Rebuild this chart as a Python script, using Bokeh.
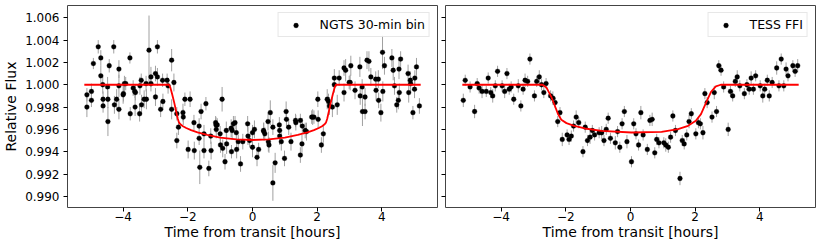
from bokeh.plotting import figure
from bokeh.layouts import row
from bokeh.models import (FixedTicker, Range1d, Legend, LegendItem, ColumnDataSource,
                          CustomLabelingPolicy, CDSView, IndexFilter)
from bokeh.embed import file_html
from bokeh.resources import INLINE

# ---------------- data ----------------
x_ticks = [-4, -2, 0, 2, 4]
x_tick_labels = ["\u22124", "\u22122", "0", "2", "4"]
y_ticks = [0.990, 0.992, 0.994, 0.996, 0.998, 1.000, 1.002, 1.004, 1.006]
y_tick_labels = ["0.990", "0.992", "0.994", "0.996", "0.998", "1.000", "1.002", "1.004", "1.006"]

ngts_time = [
    -5.12, -5.12, -4.98, -4.98, -4.92, -4.77, -4.69, -4.69, -4.63, -4.62,
    -4.62, -4.48, -4.47, -4.47, -4.43, -4.29, -4.27, -4.20, -4.13, -4.13,
    -4.13, -4.00, -3.99, -3.96, -3.92, -3.79, -3.78, -3.69, -3.64, -3.63,
    -3.62, -3.49, -3.48, -3.44, -3.43, -3.35, -3.29, -3.28, -3.20, -3.14,
    -3.14, -3.00, -3.00, -2.94, -2.94, -2.84, -2.78, -2.77, -2.64, -2.61,
    -2.50, -2.50, -2.43, -2.34, -2.34, -2.29, -2.15, -2.14, -2.09, -1.99,
    -1.93, -1.81, -1.80, -1.65, -1.65, -1.63, -1.59, -1.50, -1.50, -1.44,
    -1.35, -1.29, -1.28, -1.14, -1.13, -1.12, -1.09, -1.00, -0.99, -0.94,
    -0.92, -0.85, -0.81, -0.80, -0.66, -0.65, -0.63, -0.59, -0.54, -0.50,
    -0.49, -0.44, -0.37, -0.30, -0.15, -0.14, -0.09, 0.00, 0.00, 0.06,
    0.14, 0.19, 0.34, 0.35, 0.38, 0.48, 0.49, 0.51, 0.55, 0.63,
    0.63, 0.70, 0.83, 0.84, 0.84, 0.89, 0.99, 1.04, 1.05, 1.12,
    1.19, 1.33, 1.34, 1.48, 1.48, 1.53, 1.54, 1.63, 1.67, 1.83,
    1.86, 1.90, 2.02, 2.03, 2.13, 2.19, 2.31, 2.35, 2.38, 2.47,
    2.53, 2.53, 2.62, 2.68, 2.83, 2.83, 2.88, 2.99, 3.02, 3.04,
    3.17, 3.32, 3.33, 3.39, 3.40, 3.48, 3.48, 3.54, 3.60, 3.66,
    3.81, 3.82, 3.89, 3.90, 3.97, 4.02, 4.03, 4.08, 4.31, 4.35,
    4.39, 4.46, 4.51, 4.53, 4.54, 4.58, 4.81, 4.83, 4.88, 4.89,
    4.96, 5.01, 5.02, 5.07, 5.16,
]
ngts_flux = [
    0.9991, 0.9980, 0.9994, 0.9986, 1.0019, 1.0034, 1.0024, 1.0008, 1.0000, 0.9987,
    0.9981, 0.9998, 0.9987, 0.9967, 1.0017, 1.0034, 0.9982, 0.9987, 1.0014, 0.9999,
    0.9978, 0.9991, 0.9992, 1.0001, 1.0001, 1.0024, 0.9974, 0.9997, 0.9994, 0.9980,
    0.9993, 0.9974, 0.9999, 1.0004, 0.9982, 0.9987, 1.0001, 0.9987, 1.0031, 1.0007,
    1.0001, 1.0010, 0.9989, 1.0034, 1.0007, 0.9978, 1.0004, 0.9985, 1.0004, 0.9999,
    1.0022, 0.9978, 1.0002, 0.9974, 0.9950, 0.9962, 0.9975, 0.9971, 0.9987, 0.9942,
    0.9987, 0.9966, 0.9941, 0.9963, 0.9952, 0.9926, 0.9976, 0.9956, 0.9941, 0.9983,
    0.9925, 0.9954, 0.9941, 0.9966, 0.9964, 0.9960, 0.9964, 0.9956, 0.9946, 0.9987,
    0.9943, 0.9931, 0.9959, 0.9947, 0.9961, 0.9940, 0.9959, 0.9965, 0.9966, 0.9957,
    0.9942, 0.9949, 0.9929, 0.9949, 0.9965, 0.9954, 0.9950, 0.9957, 0.9944, 0.9960,
    0.9935, 0.9942, 0.9959, 0.9958, 0.9956, 0.9967, 0.9949, 0.9946, 0.9975, 0.9962,
    0.9912, 0.9930, 0.9964, 0.9959, 0.9954, 0.9949, 0.9934, 0.9976, 0.9969, 0.9962,
    0.9949, 0.9968, 0.9966, 0.9968, 0.9937, 0.9947, 0.9963, 0.9959, 0.9958, 0.9971,
    0.9971, 0.9971, 0.9987, 0.9969, 0.9946, 0.9956, 0.9987, 0.9985, 0.9981, 0.9980,
    1.0006, 1.0000, 0.9982, 1.0006, 0.9993, 1.0015, 1.0013, 1.0002, 1.0002, 1.0017,
    0.9995, 1.0016, 0.9990, 0.9998, 0.9976, 0.9976, 0.9989, 1.0022, 1.0021, 1.0007,
    1.0005, 0.9995, 1.0005, 0.9986, 0.9975, 1.0029, 0.9994, 1.0017, 1.0024, 1.0013,
    0.9999, 0.9982, 0.9986, 1.0014, 0.9993, 1.0023, 1.0010, 0.9993, 1.0004, 1.0001,
    0.9975, 0.9996, 1.0006, 1.0016, 0.9981,
]
ngts_err = [
    0.0006, 0.0009, 0.0007, 0.0006, 0.0005, 0.0006, 0.0007, 0.0009, 0.0008, 0.0007,
    0.0006, 0.0009, 0.0008, 0.0013, 0.0006, 0.0006, 0.0008, 0.0009, 0.0008, 0.0010,
    0.0009, 0.0008, 0.0007, 0.0007, 0.0006, 0.0005, 0.0006, 0.0007, 0.0006, 0.0008,
    0.0007, 0.0007, 0.0008, 0.0006, 0.0009, 0.0008, 0.0007, 0.0009, 0.0031, 0.0009,
    0.0007, 0.0007, 0.0008, 0.0006, 0.0008, 0.0007, 0.0006, 0.0007, 0.0006, 0.0007,
    0.0010, 0.0009, 0.0008, 0.0006, 0.0007, 0.0007, 0.0008, 0.0007, 0.0006, 0.0008,
    0.0007, 0.0007, 0.0008, 0.0007, 0.0006, 0.0015, 0.0007, 0.0008, 0.0007, 0.0006,
    0.0007, 0.0007, 0.0008, 0.0006, 0.0007, 0.0008, 0.0006, 0.0007, 0.0007, 0.0011,
    0.0008, 0.0007, 0.0008, 0.0009, 0.0008, 0.0006, 0.0008, 0.0007, 0.0006, 0.0009,
    0.0008, 0.0006, 0.0007, 0.0007, 0.0007, 0.0008, 0.0006, 0.0007, 0.0009, 0.0008,
    0.0008, 0.0006, 0.0007, 0.0008, 0.0006, 0.0008, 0.0009, 0.0007, 0.0011, 0.0007,
    0.0016, 0.0009, 0.0007, 0.0006, 0.0008, 0.0008, 0.0007, 0.0009, 0.0008, 0.0007,
    0.0008, 0.0006, 0.0007, 0.0006, 0.0007, 0.0008, 0.0007, 0.0007, 0.0008, 0.0006,
    0.0007, 0.0006, 0.0007, 0.0008, 0.0007, 0.0008, 0.0009, 0.0007, 0.0008, 0.0009,
    0.0008, 0.0007, 0.0009, 0.0007, 0.0008, 0.0007, 0.0010, 0.0006, 0.0007, 0.0009,
    0.0008, 0.0009, 0.0008, 0.0007, 0.0013, 0.0007, 0.0008, 0.0008, 0.0009, 0.0008,
    0.0007, 0.0009, 0.0008, 0.0007, 0.0008, 0.0015, 0.0009, 0.0008, 0.0008, 0.0009,
    0.0008, 0.0007, 0.0008, 0.0009, 0.0008, 0.0007, 0.0008, 0.0009, 0.0008, 0.0007,
    0.0006, 0.0008, 0.0007, 0.0008, 0.0007,
]

tess_time = [
    -5.17, -5.11, -4.96, -4.82, -4.74, -4.68, -4.59, -4.46, -4.40, -4.32,
    -4.26, -4.18, -4.11, -3.97, -3.89, -3.82, -3.75, -3.69, -3.61, -3.47,
    -3.39, -3.32, -3.26, -3.18, -3.11, -2.97, -2.90, -2.82, -2.75, -2.68,
    -2.61, -2.47, -2.40, -2.33, -2.25, -2.18, -2.11, -1.96, -1.90, -1.83,
    -1.76, -1.68, -1.60, -1.47, -1.40, -1.33, -1.25, -1.18, -1.11, -0.97,
    -0.89, -0.82, -0.75, -0.69, -0.62, -0.47, -0.40, -0.33, -0.26, -0.19,
    -0.11, 0.03, 0.10, 0.17, 0.25, 0.32, 0.39, 0.52, 0.60, 0.67,
    0.75, 0.81, 0.88, 1.03, 1.09, 1.17, 1.24, 1.31, 1.39, 1.53,
    1.60, 1.66, 1.74, 1.81, 1.88, 2.02, 2.10, 2.16, 2.24, 2.30,
    2.37, 2.52, 2.59, 2.66, 2.73, 2.80, 2.88, 3.02, 3.09, 3.16,
    3.24, 3.30, 3.38, 3.52, 3.60, 3.67, 3.73, 3.80, 3.87, 4.01,
    4.09, 4.15, 4.23, 4.29, 4.38, 4.52, 4.59, 4.66, 4.74, 4.81,
    4.87, 5.02, 5.09, 5.17,
]
tess_flux = [
    0.9986, 1.0004, 0.9998, 0.9976, 1.0001, 0.9997, 0.9994, 0.9994, 1.0006, 0.9993,
    0.9990, 0.9999, 1.0012, 0.9999, 0.9994, 1.0010, 0.9996, 0.9998, 0.9987, 0.9999,
    0.9981, 0.9996, 1.0004, 1.0003, 1.0023, 0.9990, 1.0003, 1.0007, 1.0000, 0.9993,
    1.0001, 0.9990, 0.9988, 0.9984, 0.9967, 0.9975, 0.9951, 0.9955, 0.9951, 0.9954,
    0.9963, 0.9971, 0.9966, 0.9940, 0.9962, 0.9950, 0.9953, 0.9959, 0.9955, 0.9957,
    0.9957, 0.9950, 0.9960, 0.9970, 0.9952, 0.9948, 0.9958, 0.9944, 0.9965, 0.9976,
    0.9949, 0.9931, 0.9965, 0.9956, 0.9946, 0.9975, 0.9955, 0.9942, 0.9968, 0.9969,
    0.9939, 0.9951, 0.9948, 0.9948, 0.9946, 0.9944, 0.9953, 0.9972, 0.9959, 0.9916,
    0.9950, 0.9947, 0.9955, 0.9967, 0.9974, 0.9956, 0.9966, 0.9965, 0.9957, 0.9992,
    0.9984, 0.9971, 0.9993, 0.9976, 1.0017, 1.0013, 0.9998, 0.9960, 0.9994, 0.9990,
    1.0003, 1.0007, 0.9999, 0.9992, 1.0000, 0.9996, 1.0006, 0.9996, 1.0008, 0.9999,
    0.9990, 0.9996, 1.0004, 0.9990, 1.0002, 1.0015, 0.9999, 1.0023, 0.9999, 1.0014,
    1.0008, 1.0017, 1.0012, 1.0017,
]
tess_err = [
    0.0006, 0.0005, 0.0005, 0.0006, 0.0005, 0.0005, 0.0006, 0.0005, 0.0005, 0.0005,
    0.0006, 0.0005, 0.0005, 0.0005, 0.0006, 0.0005, 0.0005, 0.0005, 0.0005, 0.0006,
    0.0005, 0.0005, 0.0006, 0.0005, 0.0005, 0.0005, 0.0005, 0.0006, 0.0005, 0.0005,
    0.0005, 0.0005, 0.0006, 0.0005, 0.0005, 0.0005, 0.0006, 0.0005, 0.0005, 0.0005,
    0.0005, 0.0006, 0.0005, 0.0005, 0.0005, 0.0005, 0.0006, 0.0005, 0.0005, 0.0005,
    0.0006, 0.0005, 0.0005, 0.0005, 0.0005, 0.0006, 0.0005, 0.0005, 0.0005, 0.0005,
    0.0006, 0.0005, 0.0005, 0.0005, 0.0005, 0.0006, 0.0005, 0.0005, 0.0005, 0.0006,
    0.0005, 0.0005, 0.0005, 0.0005, 0.0006, 0.0005, 0.0005, 0.0005, 0.0005, 0.0006,
    0.0005, 0.0005, 0.0005, 0.0006, 0.0005, 0.0005, 0.0005, 0.0005, 0.0006, 0.0005,
    0.0005, 0.0005, 0.0006, 0.0005, 0.0005, 0.0005, 0.0005, 0.0006, 0.0005, 0.0005,
    0.0005, 0.0006, 0.0005, 0.0005, 0.0005, 0.0005, 0.0006, 0.0005, 0.0005, 0.0005,
    0.0006, 0.0005, 0.0005, 0.0005, 0.0005, 0.0006, 0.0005, 0.0005, 0.0005, 0.0006,
    0.0005, 0.0005, 0.0005, 0.0006,
]

ngts_model_time = [-5.2, -2.58, -2.54, -2.48, -2.42, -2.36, -2.31, -2.27, -2.22, -2.15,
                   -2.05, -1.9, -1.7, -1.4, -1.0, -0.5, 0.0, 0.5, 1.0, 1.4, 1.7, 1.9,
                   2.05, 2.15, 2.22, 2.27, 2.31, 2.36, 2.42, 2.48, 2.54, 2.58, 5.2]
ngts_model_flux = [1.0, 1.0, 0.99975, 0.9991, 0.9984, 0.9976, 0.99695, 0.9966, 0.99643, 0.99628,
                   0.99612, 0.99593, 0.99573, 0.9955, 0.99527, 0.9951, 0.99505, 0.9951, 0.99527,
                   0.9955, 0.99573, 0.99593, 0.99612, 0.99628, 0.99643, 0.9966, 0.99695, 0.9976,
                   0.9984, 0.9991, 0.99975, 1.0, 1.0]

tess_model_time = [-5.2, -2.72, -2.6, -2.44, -2.34, -2.24, -2.14, -1.98, -1.74, -1.41, -0.89,
                   0.03, 0.96, 1.47, 1.78, 2.02, 2.18, 2.34, 2.49, 2.64, 2.79, 5.2]
tess_model_flux = [1.0, 1.0, 0.99976, 0.99886, 0.99812, 0.99737, 0.99686, 0.99656, 0.99632,
                   0.99608, 0.99587, 0.99572, 0.99578, 0.99602, 0.99632, 0.99677, 0.99737,
                   0.99842, 0.99937, 0.99985, 1.0, 1.0]

series_labels = ["NGTS 30-min bin", "TESS FFI"]

FONT = "DejaVu Sans"

NO_LABELS = CustomLabelingPolicy(code="""
for (let i = 0; i < indices.size; i++) { indices.unset(i) }
return indices
""")


def make_panel(width, t, f, e, mt, mf, label, first):
    p = figure(width=width, height=247,
               x_range=Range1d(-5.72, 5.72), y_range=Range1d(0.989, 1.0071),
               output_backend="svg", toolbar_location=None,
               min_border_top=5, min_border_right=1, min_border_bottom=40,
               min_border_left=65 if first else 7)
    p.background_fill_color = "white"
    p.border_fill_color = "white"
    p.outline_line_color = "#444444"
    p.outline_line_width = 1
    p.xgrid.visible = False
    p.ygrid.visible = False

    lo = [a - b for a, b in zip(f, e)]
    hi = [a + b for a, b in zip(f, e)]
    src = ColumnDataSource(dict(t=t, f=f, lo=lo, hi=hi))
    p.segment(x0="t", y0="lo", x1="t", y1="hi", source=src,
              line_color="#a0a0a0", line_width=1)
    dots = p.scatter(x="t", y="f", source=src, size=4.8, marker="circle",
                     fill_color="black", line_color="black", line_width=0.3)
    # vertical error-bar glyph, only used for the legend symbol (nothing drawn in the frame)
    bar_key = p.vspan(x="t", source=src, view=CDSView(filter=IndexFilter(indices=[])),
                      line_color="#707070", line_width=1)
    p.line(mt, mf, line_color="red", line_width=1.8)

    for ax in (p.xaxis[0], p.yaxis[0]):
        ax.axis_line_color = None
        ax.major_tick_line_color = "black"
        ax.major_tick_out = 4
        ax.major_tick_in = 0
        ax.minor_tick_line_color = None
        ax.major_label_text_font = FONT
        ax.major_label_text_font_size = "12px"
        ax.major_label_text_color = "black"
        ax.major_label_text_line_height = 1.0
        ax.axis_label_text_font = FONT
        ax.axis_label_text_font_size = "14px"
        ax.axis_label_text_font_style = "normal"
        ax.axis_label_text_color = "black"
        ax.axis_label_text_line_height = 1.0

    p.xaxis.ticker = FixedTicker(ticks=x_ticks)
    p.xaxis.major_label_overrides = dict(zip(x_ticks, x_tick_labels))
    p.xaxis.axis_label = "Time from transit [hours]"
    p.xaxis.major_label_standoff = 0
    p.xaxis.axis_label_standoff = 0

    p.yaxis.ticker = FixedTicker(ticks=y_ticks)
    p.yaxis.major_label_overrides = dict(zip(y_ticks, y_tick_labels))
    if first:
        p.yaxis.axis_label = "Relative Flux"
        p.yaxis.major_label_standoff = 4
        p.yaxis.axis_label_standoff = 3
    else:
        p.yaxis.major_label_policy = NO_LABELS
        p.yaxis.major_label_text_font_size = "0px"
        p.yaxis.major_label_standoff = 0

    legend = Legend(items=[LegendItem(label=label, renderers=[bar_key, dots])],
                    location="top_right", margin=7, padding=4, spacing=0,
                    glyph_width=26, glyph_height=12, label_height=14,
                    label_standoff=11,
                    label_text_font=FONT, label_text_font_size="12.5px",
                    label_text_color="black",
                    border_line_color="#d0d0d0", border_line_width=1,
                    background_fill_color="white", background_fill_alpha=0.85)
    p.add_layout(legend)
    return p


p1 = make_panel(438, ngts_time, ngts_flux, ngts_err, ngts_model_time, ngts_model_flux,
                series_labels[0], True)
p2 = make_panel(378, tess_time, tess_flux, tess_err, tess_model_time, tess_model_flux,
                series_labels[1], False)

layout = row(p1, p2)
open("out.html", "w").write(file_html(layout, INLINE))
